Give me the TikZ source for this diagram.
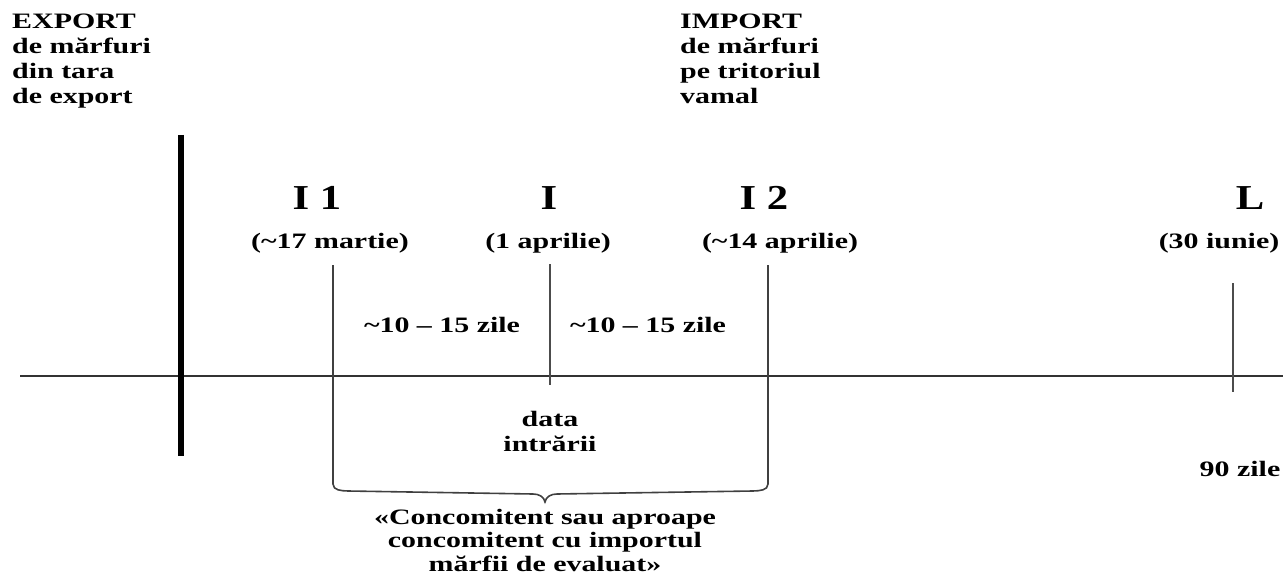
\documentclass[tikz,border=0pt]{standalone}
\usepackage{fontspec}
\newfontfamily\smfont[FakeStretch=1.36]{Liberation Serif}
\newfontfamily\bgfont[FakeStretch=1.22]{Liberation Serif}
\begin{document}
\begin{tikzpicture}[x=1pt,y=-1pt,
  sm/.style={inner sep=0pt,font=\smfont\bfseries\fontsize{22}{25}\selectfont},
  smb/.style={inner sep=0pt,font=\smfont\bfseries\fontsize{22}{23.5}\selectfont},
  bg/.style={inner sep=0pt,font=\bgfont\bfseries\fontsize{35}{38}\selectfont},
  tick/.style={draw=black!70,line width=2.2pt},
  axis/.style={draw=black!80,line width=1.4pt},
  bar/.style={draw=black,line width=6pt}]
\useasboundingbox (0,0) rectangle (1283,575);
% coordinates
\coordinate (axL) at (20,376);
\coordinate (axR) at (1283,376);
\coordinate (barT) at (181,135);
\coordinate (barB) at (181,456);
\coordinate (i1T) at (333,265);
\coordinate (iT) at (550,264);
\coordinate (iB) at (550,385);
\coordinate (i2T) at (768,265);
\coordinate (lT) at (1233,283);
\coordinate (lB) at (1233,392);
\coordinate (tip) at (545,502);
% lines
\draw[axis] (axL) -- (axR);
\draw[bar] (barT) -- (barB);
\draw[tick] (iT) -- (iB);
\draw[tick] (lT) -- (lB);
\draw[draw=black!75,line width=1.6pt]
  (i1T) -- (333,484) to[out=-90,in=178] (348,491) -- (533,494) to[out=0,in=100] (tip)
  to[out=80,in=180] (557,494) -- (753,491) to[out=2,in=-90] (768,484) -- (i2T);
% texts
\node[sm,anchor=north west,align=left] (exp) at (12,14) {EXPORT\\de mărfuri\\din tara\\de export};
\node[sm,anchor=north west,align=left] (imp) at (680,14) {IMPORT\\de mărfuri\\pe tritoriul\\vamal};
\node[bg] (li1) at (317,198) {I 1};
\node[bg] (li) at (549,198) {I};
\node[bg] (li2) at (764,198) {I 2};
\node[bg] (ll) at (1250,198) {L};
\node[sm] (d1) at (330,243) {(\textasciitilde17 martie)};
\node[sm] (d0) at (548,243) {(1 aprilie)};
\node[sm] (d2) at (780,243) {(\textasciitilde14 aprilie)};
\node[sm] (dl) at (1219,243) {(30 iunie)};
\node[sm] (z1) at (442,325) {\textasciitilde10 – 15 zile};
\node[sm] (z2) at (648,325) {\textasciitilde10 – 15 zile};
\node[sm,align=center] (de) at (550,431) {data\\intrării};
\node[sm] (z90) at (1240,469) {90 zile};
\node[smb,align=center,anchor=north] (conc) at (545,509) {«Concomitent sau aproape\\concomitent cu importul\\mărfii de evaluat»};
\end{tikzpicture}
\end{document}
